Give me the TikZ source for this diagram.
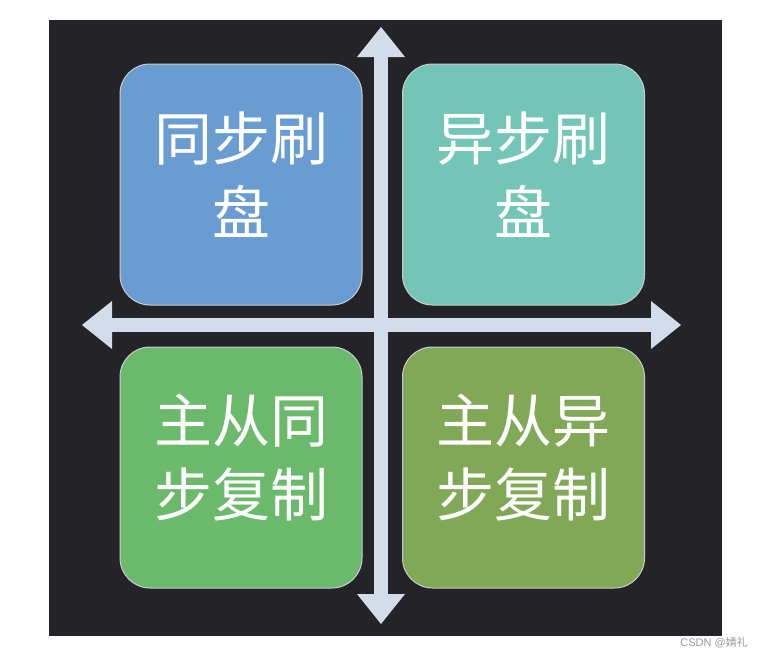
\documentclass[tikz,border=0pt]{standalone}
\usepackage{fontspec}
\setmainfont{Noto Sans CJK SC}
\newfontfamily\cjk{Noto Sans CJK SC}
\newfontfamily\wmlatin{Liberation Sans}
\usetikzlibrary{arrows.meta}
\definecolor{bgdark}{HTML}{242328}
\definecolor{qblue}{HTML}{699CD0}
\definecolor{qteal}{HTML}{73C6B7}
\definecolor{qgreen}{HTML}{6BB96B}
\definecolor{qolive}{HTML}{80A856}
\definecolor{axiscol}{HTML}{D3DCEB}
\definecolor{edgecol}{HTML}{C9CCD2}
\definecolor{wmgray}{HTML}{9A9A9A}
\tikzset{
  quad/.style={draw=edgecol, line width=1pt, rounded corners=30pt,
    minimum width=242pt, minimum height=241pt, inner sep=0pt},
  quadtext/.style={inner sep=0pt, align=center, text=white,
    font=\cjk\fontsize{58}{74}\selectfont},
  axis/.style={draw=axiscol, line width=14pt,
    {Triangle[width=48pt,length=30pt,line width=0pt]}-{Triangle[width=48pt,length=30pt,line width=0pt]}},
  wmlabel/.style={text=wmgray, font=\cjk\fontsize{11}{13}\selectfont, inner sep=0pt}
}
\begin{document}
\begin{tikzpicture}[x=1pt,y=-1pt]
\useasboundingbox (0,0) rectangle (763,659);
\fill[white] (0,0) rectangle (763,659);
\fill[bgdark] (49,20) rectangle (722,636);
\node[quad, fill=qblue]  (q1) at (241,184.5) {};
\node[quad, fill=qteal]  (q2) at (523.5,184.5) {};
\node[quad, fill=qgreen] (q3) at (241,467.5) {};
\node[quad, fill=qolive] (q4) at (523.5,467.5) {};
\node[quadtext] (t1) at ([yshift=10pt]q1.center) {同步刷\\盘};
\node[quadtext] (t2) at ([yshift=10pt]q2.center) {异步刷\\盘};
\node[quadtext] (t3) at ([yshift=10pt]q3.center) {主从同\\步复制};
\node[quadtext] (t4) at ([yshift=10pt]q4.center) {主从异\\步复制};
\coordinate (top) at (381,27);
\coordinate (bottom) at (381,624);
\coordinate (left) at (82,325);
\coordinate (right) at (681,325);
\draw[axis] (bottom) -- (top);
\draw[axis] (left) -- (right);
\node[wmlabel, anchor=east] (wm) at (748,643) {{\wmlatin CSDN @}婧礼};
\end{tikzpicture}
\end{document}
